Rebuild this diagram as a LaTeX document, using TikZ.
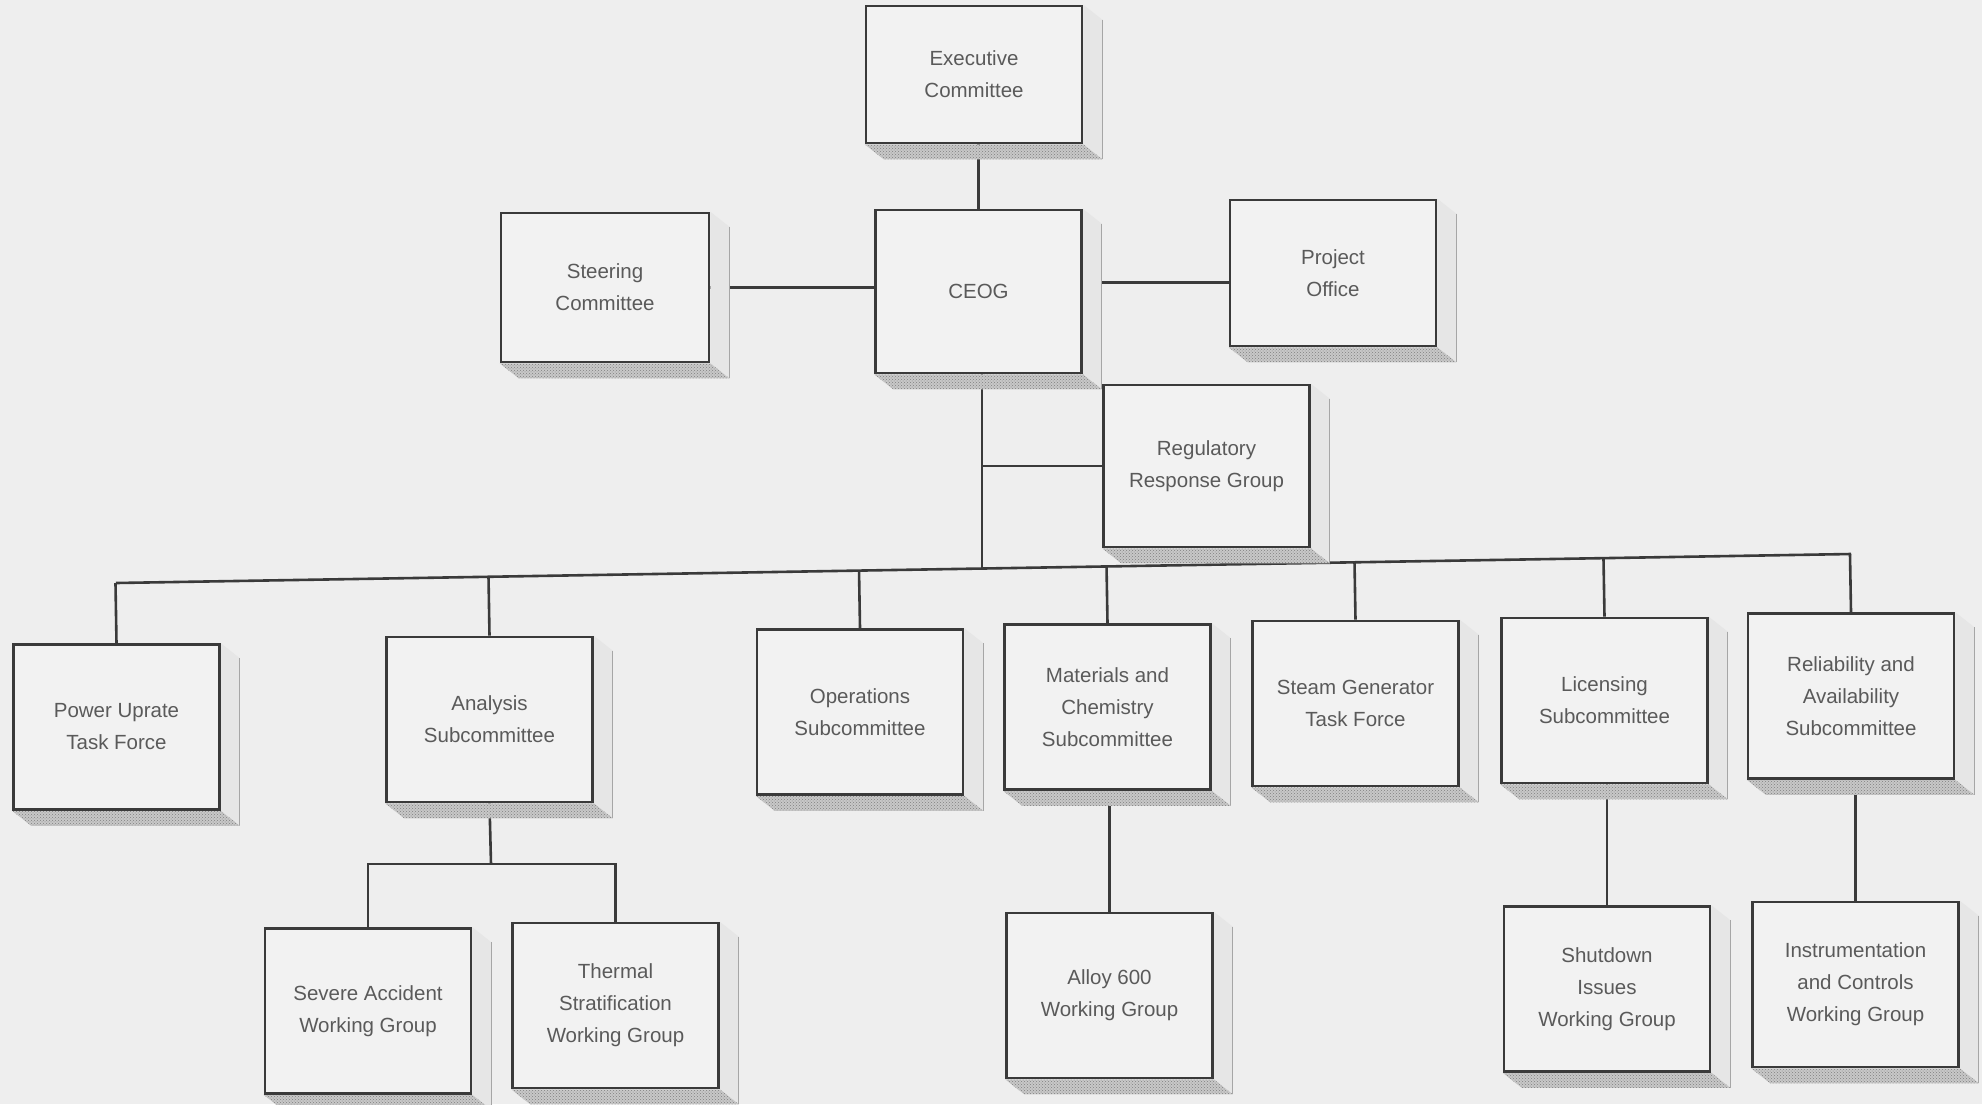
\documentclass[tikz,border=0pt]{standalone}
\usepackage{fontspec}
\setmainfont{Liberation Sans}
\usetikzlibrary{calc,patterns}
\pgfdeclarelayer{bg}
\pgfdeclarelayer{shade}
\pgfsetlayers{bg,shade,main}
\definecolor{paper}{HTML}{EEEEEE}
\definecolor{boxfill}{HTML}{F2F2F2}
\definecolor{ink}{HTML}{3A3A3A}
\definecolor{txt}{HTML}{5A5A5A}
\definecolor{sidegray}{HTML}{E6E6E6}
\definecolor{basegray}{HTML}{C8C8C8}
\tikzset{
  unit/.style={draw=ink, fill=boxfill, line width=2.6pt, inner sep=0pt,
    minimum width=206pt, minimum height=165pt, align=center, text=txt,
    font=\fontsize{20.5}{32}\selectfont},
  link/.style={draw=ink, line width=2.6pt},
  sideface/.style={fill=sidegray},
  baseface/.style={fill=basegray, postaction={pattern=crosshatch dots, pattern color=gray}},
  edgeline/.style={draw=gray!70, line width=1.2pt}
}

\begin{document}
\begin{tikzpicture}[x=1pt,y=-1pt]
      \useasboundingbox (0,0) rectangle (1982,1104);
      \begin{pgfonlayer}{bg}
        \fill[paper] (0,0) rectangle (1982,1104);
      \end{pgfonlayer}

      \node[unit, minimum width=216pt, minimum height=137pt] (exe) at (974,74.5) {Executive\\Committee};
      \node[unit, minimum width=208pt, minimum height=149pt] (steer) at (605,287.5) {Steering\\Committee};
      \node[unit, minimum height=163pt] (ceog) at (978.5,291.5) {CEOG};
      \node[unit, minimum height=146pt] (proj) at (1333,273) {Project\\Office};
      \node[unit, minimum height=162pt] (reg) at (1206.5,466) {Regulatory\\Response Group};

      \node[unit] (pow) at (116.5,727) {Power Uprate\\Task Force};
      \node[unit] (ana) at (489.5,719.5) {Analysis\\Subcommittee};
      \node[unit] (ops) at (860,712) {Operations\\Subcommittee};
      \node[unit] (mat) at (1107.5,707) {Materials and\\Chemistry\\Subcommittee};
      \node[unit] (sg) at (1355.5,703.5) {Steam Generator\\Task Force};
      \node[unit] (lic) at (1604.5,700.5) {Licensing\\Subcommittee};
      \node[unit] (rel) at (1851,696) {Reliability and\\Availability\\Subcommittee};

      \node[unit] (sev) at (368,1011) {Severe Accident\\Working Group};
      \node[unit] (therm) at (615.5,1005.5) {Thermal\\Stratification\\Working Group};
      \node[unit] (alloy) at (1109.5,995.5) {Alloy 600\\Working Group};
      \node[unit] (shut) at (1607,989) {Shutdown\\Issues\\Working Group};
      \node[unit] (ic) at (1855.5,984.5) {Instrumentation\\and Controls\\Working Group};

      \coordinate (trunk) at (982,568);
      \coordinate (busl) at (116,583);
      \coordinate (busr) at (1851,554);
      \coordinate (sub) at (491,864);
      \coordinate (mid) at ($(ceog.east)!0.5!(proj.west)$);

      \begin{pgfonlayer}{shade}
        \draw[link] (ceog.north) -- (ceog.north |- exe.south);
        \draw[link] (steer.east) -- (steer.east -| ceog.west);
        \draw[link] (ceog.east |- mid) -- (proj.west |- mid);
        \draw[link] (ceog.south -| trunk) -- (trunk);
        \draw[link] (reg.west) -- (reg.west -| trunk);
        \draw[link] (busl) -- (busr);
        \foreach \bx in {pow,ana,ops,mat,sg,lic,rel}
          \draw[link] (\bx.north) -- ($(busl)!(\bx.north)!(busr)$);
        \draw[link] (ana.south) -- (sub);
        \draw[link] (sev.north) |- (sub) -| (therm.north);
        \draw[link] (alloy.north) -- (alloy.north |- mat.south);
        \draw[link] (shut.north) -- (shut.north |- lic.south);
        \draw[link] (ic.north) -- (ic.north |- rel.south);

        \foreach \bx in {exe,steer,ceog,proj,reg,pow,ana,ops,mat,sg,lic,rel,sev,therm,alloy,shut,ic} {
          \fill[sideface] (\bx.north east) -- ++(19,15) -- ($(\bx.south east)+(19,15)$) -- (\bx.south east) -- cycle;
          \draw[edgeline] ($(\bx.north east)+(19,15)$) -- ($(\bx.south east)+(19,15)$);
          \fill[baseface] (\bx.south west) -- ($(\bx.south west)+(19,15)$) -- ($(\bx.south east)+(19,15)$) -- (\bx.south east) -- cycle;
        }
      \end{pgfonlayer}
    \end{tikzpicture}
\end{document}
